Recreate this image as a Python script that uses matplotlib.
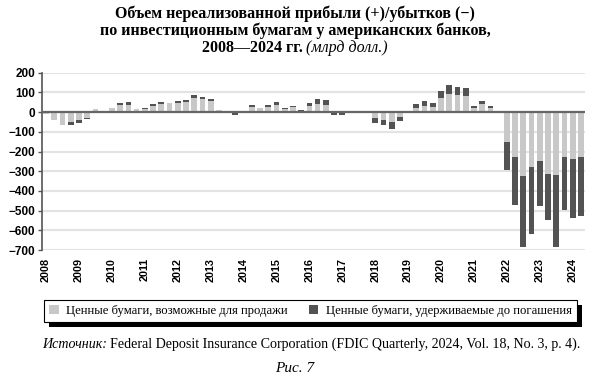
import matplotlib
matplotlib.use('Agg')
import matplotlib.pyplot as plt
from matplotlib.patches import Rectangle
from matplotlib.transforms import IdentityTransform
import numpy as np

# Квартальные данные 2008Q1 - 2024Q2, млрд долл.
years = list(range(2008, 2025))
afs = [-12, -42, -63, -50, -39, -28, 14, 8,
       20, 34, 38, 17, 15, 30, 41, 44,
       48, 53, 74, 68, 59, 12, 2, -3,
       1, 26, 20, 26, 36, 14, 24, 5,
       31, 41, 34, -3, -5, 1, 0, 1,
       -32, -38, -51, -25, 1, 20, 32, 27,
       70, 93, 86, 81, 23, 40, 22, 0,
       -153, -229, -322, -280, -249, -314, -319, -229,
       -237, -229]
htm = [3, 0, 0, -14, -17, -9, 0, 0,
       0, 12, 11, 0, 6, 9, 9, 0,
       8, 8, 11, 11, 9, 0, 0, -14,
       0, 8, 0, 11, 13, 8, 8, 7,
       13, 27, 27, -14, -9, 0, 0, 0,
       -21, -25, -37, -21, 0, 19, 24, 19,
       36, 43, 42, 41, 10, 14, 9, -4,
       -140, -240, -364, -339, -226, -233, -367, -268,
       -302, -296]
yticks = list(range(-700, 201, 100))

light = '#c8c8c8'
dark = '#535353'
serif = 'Liberation Serif'

W, H = 590, 380
fig = plt.figure(figsize=(W / 100, H / 100), dpi=100)
ax = fig.add_axes([42 / W, 0.342, 543 / W, 0.4666])

x = np.arange(len(afs))
a = np.array(afs, dtype=float)
h = np.array(htm, dtype=float)
# темный сегмент продолжает светлый, если знаки совпадают
hbottom = np.where(np.sign(a) == np.sign(h), a, 0)

ax.bar(x, a, width=0.7, color=light, zorder=3, label='Ценные бумаги, возможные для продажи')
ax.bar(x, h, bottom=hbottom, width=0.7, color=dark, zorder=3,
       label='Ценные бумаги, удерживаемые до погашения')

ax.set_xlim(-0.5, len(afs) - 0.5)
ax.set_ylim(-700, 200)
ax.set_yticks(yticks)
ax.set_yticklabels([str(v).replace('-', '\u2212') for v in yticks],
                   family='Liberation Sans', fontsize=8.5, fontweight='bold')
ax.set_xticks(np.arange(0, len(afs), 4))
ax.set_xticklabels([str(y) for y in years], rotation=90,
                   family='Liberation Sans', fontsize=7.8, fontweight='bold')
ax.tick_params(axis='x', length=0, pad=6)
ax.tick_params(axis='y', length=3, width=1, color='#555555', pad=2)

ax.grid(axis='y', color='#e3e3e3', lw=1.5, zorder=0)
ax.axhline(0, color='#666666', lw=1.6, zorder=4)
for s in ['top', 'right', 'bottom']:
    ax.spines[s].set_visible(False)
ax.spines['left'].set_color('#555555')
ax.spines['left'].set_linewidth(1.2)

leg = fig.legend(loc='lower left', bbox_to_anchor=(44 / W, 58 / H, 533 / W, 23 / H),
                 mode='expand', ncol=2, frameon=True, fancybox=False, framealpha=1,
                 prop={'family': serif, 'size': 9.1},
                 handlelength=0.75, handleheight=0.75, handletextpad=0.6,
                 borderaxespad=0, borderpad=0.4, columnspacing=1.0)
leg.get_frame().set_edgecolor('black')
leg.get_frame().set_facecolor('white')
leg.get_frame().set_linewidth(0.8)
leg.set_zorder(6)

fig.canvas.draw()
r = fig.canvas.get_renderer()

# тень легенды
bb = leg.get_frame().get_window_extent(r)
fig.add_artist(Rectangle((bb.x0 + 5, bb.y0 - 5), bb.width, bb.height, facecolor='black',
                         edgecolor='none', transform=IdentityTransform(), zorder=5))


def text_line(y, parts, size, x0=None):
    # строка из нескольких кусков с разным начертанием
    objs = []
    for s, weight, style in parts:
        t = fig.text(0, y, s, fontsize=size, family=serif, fontweight=weight,
                     fontstyle=style, va='center', ha='left')
        objs.append(t)
    gap = 3
    widths = [t.get_window_extent(r).width for t in objs]
    total = sum(widths) + gap * (len(objs) - 1)
    xx = (W - total) / 2 if x0 is None else x0
    for t, w in zip(objs, widths):
        t.set_x(xx / W)
        xx += w + gap


text_line(1 - 14 / H, [('Объем нереализованной прибыли (+)/убытков (\u2212)', 'bold', 'normal')], 11.5)
text_line(1 - 31 / H, [('по инвестиционным бумагам у американских банков,', 'bold', 'normal')], 11.5)
text_line(1 - 48 / H, [('2008\u20142024 гг.', 'bold', 'normal'), ('(млрд долл.)', 'normal', 'italic')], 11.5)
text_line(1 - 344 / H, [('Источник:', 'normal', 'italic'),
                        ('Federal Deposit Insurance Corporation (FDIC Quarterly, 2024, Vol. 18, No. 3, p. 4).',
                         'normal', 'normal')], 10.1, x0=42)
text_line(1 - 369 / H, [('Рис. 7', 'normal', 'italic')], 11)

fig.savefig('out.png', dpi=100)
